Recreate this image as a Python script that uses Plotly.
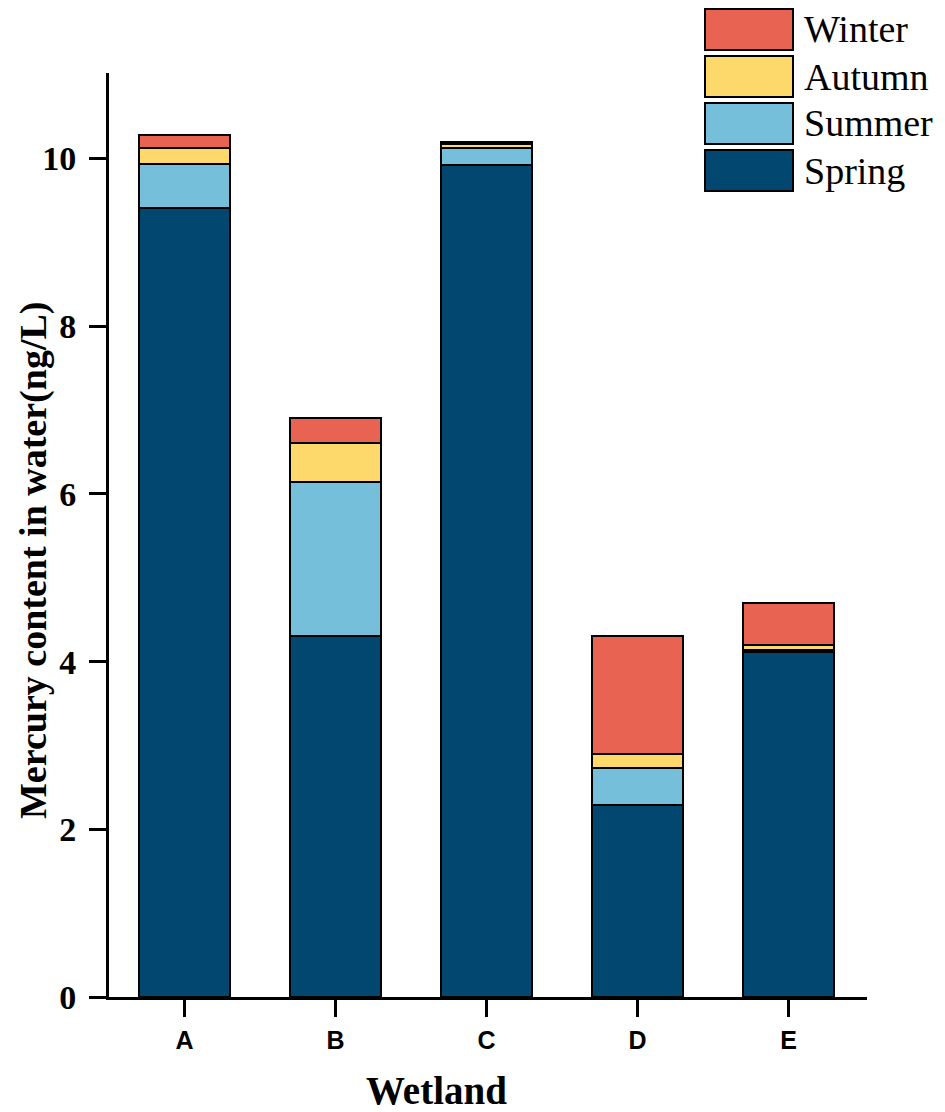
import plotly.graph_objects as go

# Mercury content in water (ng/L) by wetland and season (stacked)
wetlands = ["A", "B", "C", "D", "E"]
spring = [9.41, 4.30, 9.92, 2.29, 4.11]
summer = [0.53, 1.84, 0.21, 0.44, 0.03]
autumn = [0.19, 0.47, 0.04, 0.17, 0.06]
winter = [0.15, 0.30, 0.03, 1.40, 0.50]

season_names = ["Spring", "Summer", "Autumn", "Winter"]
season_values = [spring, summer, autumn, winter]
season_colors = ["#02476F", "#76BFDA", "#FDD86A", "#E96352"]

serif = "Liberation Serif"

fig = go.Figure()
for name, vals, col in zip(season_names, season_values, season_colors):
    fig.add_trace(
        go.Bar(
            x=wetlands,
            y=vals,
            name=name,
            marker=dict(color=col, line=dict(color="black", width=2)),
            width=0.605,
            showlegend=False,
        )
    )

# legend drawn by hand (big boxes, top right, winter on top)
# positions below are window pixels, plot area spans x 109..867, y 73..997
plot_w, plot_h = 758, 924
box_x0 = (705 - 109) / plot_w
box_x1 = (793 - 109) / plot_w
text_x = (802 - 109) / plot_w
row_tops = [150, 103, 56, 9]
box_h = 41
for name, col, top in zip(season_names, season_colors, row_tops):
    y0 = (997 - (top + box_h)) / plot_h
    y1 = (997 - top) / plot_h
    fig.add_shape(
        type="rect", xref="paper", yref="paper",
        x0=box_x0, x1=box_x1, y0=y0, y1=y1,
        fillcolor=col, line=dict(color="black", width=2),
    )
    fig.add_annotation(
        xref="paper", yref="paper", x=text_x, y=(y0 + y1) / 2,
        text=name, showarrow=False, xanchor="left", yanchor="middle",
        font=dict(family=serif, size=38, color="black"),
    )

# axis titles
fig.add_annotation(
    xref="paper", yref="paper", x=(436 - 109) / plot_w, y=(997 - 1090) / plot_h,
    text="Wetland", showarrow=False, xanchor="center", yanchor="middle",
    font=dict(family=serif, size=39, color="black", weight="bold"),
)
fig.add_annotation(
    xref="paper", yref="paper", x=(33 - 109) / plot_w, y=(997 - 561) / plot_h,
    text="Mercury content in water(ng/L)", showarrow=False, textangle=-90,
    xanchor="center", yanchor="middle",
    font=dict(family=serif, size=38, color="black", weight="bold"),
)

# page body adds an 8px offset, margins compensate for it
fig.update_layout(
    barmode="stack",
    width=945,
    height=1112,
    margin=dict(l=101, r=86, t=65, b=123),
    plot_bgcolor="white",
    paper_bgcolor="white",
)
fig.update_xaxes(
    range=[-0.5, 4.52],
    showline=True, linecolor="black", linewidth=3,
    ticks="outside", ticklen=17, tickwidth=3, tickcolor="black",
    ticklabelstandoff=2,
    tickfont=dict(family="Liberation Sans", size=25, color="black", weight="bold"),
    showgrid=False, zeroline=False,
)
fig.update_yaxes(
    range=[0, 11.02],
    tickvals=[0, 2, 4, 6, 8, 10],
    showline=True, linecolor="black", linewidth=3,
    ticks="outside", ticklen=17, tickwidth=3, tickcolor="black",
    ticklabelstandoff=6,
    tickfont=dict(family=serif, size=34, color="black", weight="bold"),
    showgrid=False, zeroline=False,
)

fig.write_html("out.html")
